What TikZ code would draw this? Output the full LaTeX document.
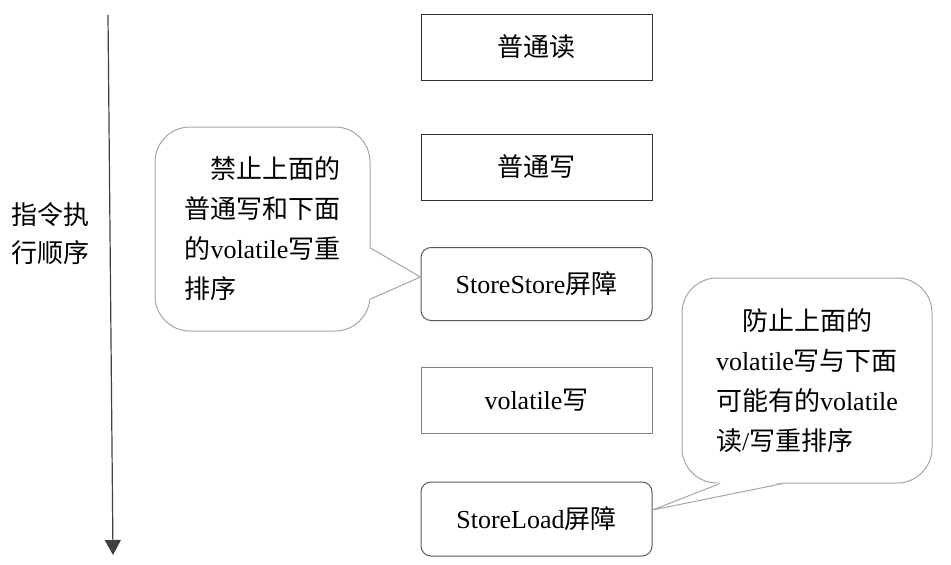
\documentclass[tikz,border=0pt]{standalone}
\usepackage{fontspec}
\setmainfont{Liberation Serif}
\newfontfamily\cjk{Noto Sans CJK SC}
\newcommand\zh[1]{{\cjk#1}}
\usetikzlibrary{arrows.meta}

\begin{document}
\begin{tikzpicture}[x=1pt,y=-1pt,>={Triangle[width=16pt,length=15pt]},semithick,font=\fontsize{26}{40}\selectfont]
\tikzstyle{op}=[draw=black!80,line width=1pt,minimum width=231pt,minimum height=66pt,inner sep=0pt]
\tikzstyle{barrier}=[op,draw=black!65,rounded corners=10pt,minimum height=73pt]
\tikzstyle{note}=[draw=black!35,line width=1pt,rounded corners=35pt,align=left,inner sep=0pt,fill=white]
\tikzstyle{pointer}=[draw=black!35,line width=1pt]
\useasboundingbox (0,0) rectangle (951,565);
% execution order
\coordinate (top) at (108,15);
\coordinate (bot) at (113,555);
\draw[->,draw=black!75,line width=1.2pt] (top) -- (bot);
\node[align=center,font=\fontsize{26}{38}\selectfont\cjk] (order) at (51,234) {指令执\\行顺序};
% instructions and barriers
\node[op] (rd) at (536.5,47) {\zh{普通读}};
\node[op] (wr) at (536.5,167) {\zh{普通写}};
\node[barrier] (ss) at (536.5,284) {StoreStore\zh{屏障}};
\node[op,draw=black!50] (vw) at (536.5,400) {volatile\zh{写}};
\node[barrier,minimum height=74pt] (sl) at (536.5,519) {StoreLoad\zh{屏障}};
% callouts
\node[note,minimum width=215pt,minimum height=204pt] (n1) at (262.5,229)
  {\hspace*{1em}\zh{禁止上面的}\\\zh{普通写和下面}\\\zh{的}volatile\zh{写重}\\\zh{排序}};
\node[note,minimum width=250pt,minimum height=205pt] (n2) at (807,380.5)
  {\hspace*{1em}\zh{防止上面的}\\volatile\zh{写与下面}\\\zh{可能有的}volatile\\\zh{读}/\zh{写重排序}};
\coordinate (t1) at ([yshift=7pt]ss.west);
\coordinate (t2) at ([yshift=9pt]sl.east);
\fill[white] ([xshift=-1.5pt,yshift=-19pt]n1.east) -- (t1) -- ([xshift=-1.5pt,yshift=-70pt]n1.east) -- cycle;
\draw[pointer] ([yshift=-19pt]n1.east) -- (t1) -- ([yshift=-70pt]n1.east);
\fill[white] ([xshift=-87pt,yshift=1.5pt]n2.south) -- (t2) -- ([xshift=-24pt,yshift=1.5pt]n2.south) -- cycle;
\draw[pointer] ([xshift=-87pt]n2.south) -- (t2) -- ([xshift=-24pt]n2.south);
\end{tikzpicture}
\end{document}
